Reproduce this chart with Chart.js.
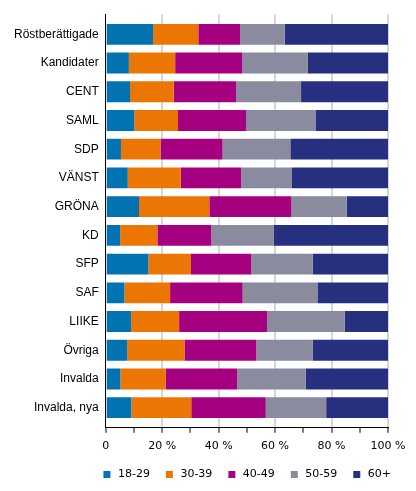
<!DOCTYPE html>
<html>
<head>
<meta charset="utf-8">
<script src="https://cdn.jsdelivr.net/npm/chart.js@4.4.1/dist/chart.umd.min.js"></script>
<style>
  html, body { margin: 0; padding: 0; background: #fff; }
  #wrap { width: 416px; height: 491px; }
</style>
</head>
<body>
<div id="wrap"><canvas id="chart"></canvas></div>
<script>
const categories = ['Röstberättigade', 'Kandidater', 'CENT', 'SAML', 'SDP', 'VÄNST', 'GRÖNA',
    'KD', 'SFP', 'SAF', 'LIIKE', 'Övriga', 'Invalda', 'Invalda, nya'];

const seriesNames = ['18-29', '30-39', '40-49', '50-59', '60+'];
const age1829 = [16.8, 8.2, 8.6, 10.1, 5.4, 7.8, 11.8, 5.1, 15.1, 6.6, 9.0, 7.6, 5.2, 9.1];
const age3039 = [16.0, 16.4, 15.5, 15.5, 14.0, 18.8, 24.9, 13.2, 15.1, 16.2, 17.0, 20.3, 16.0, 21.2];
const age4049 = [14.8, 23.8, 22.1, 24.1, 22.0, 21.4, 29.1, 19.1, 21.4, 25.7, 31.2, 25.4, 25.4, 26.4];
const age5059 = [15.8, 23.1, 23.0, 24.6, 24.0, 17.8, 19.6, 22.2, 21.7, 26.5, 27.5, 20.1, 24.3, 21.4];
const age60 = [36.6, 28.5, 30.8, 25.7, 34.6, 34.2, 14.6, 40.4, 26.7, 25.0, 15.3, 26.6, 29.1, 21.9];

const xTicks = [0, 20, 40, 60, 80, 100];

const colors = ['#0073b0', '#eb7604', '#a5007f', '#8a8b9f', '#26307f'];
const allSeries = [age1829, age3039, age4049, age5059, age60];

const datasets = allSeries.map((values, s) => ({
    label: seriesNames[s],
    data: values.map((v, i) => ({ x: v, y: i })),
    backgroundColor: colors[s],
    borderWidth: 0,
    barPercentage: 0.725,
    categoryPercentage: 1
}));

new Chart(document.getElementById('chart'), {
    type: 'bar',
    data: { datasets: datasets },
    options: {
        indexAxis: 'y',
        responsive: true,
        maintainAspectRatio: false,
        animation: false,
        layout: { padding: { left: 7, right: 11, top: 11, bottom: 1 } },
        scales: {
            x: {
                stacked: true,
                min: 0,
                max: 100,
                grid: {
                    color: c => (c.tick && c.tick.value > 0 && xTicks.includes(c.tick.value)) ? '#d6d6d6' : 'rgba(0,0,0,0)',
                    lineWidth: 2,
                    tickColor: '#000',
                    tickWidth: 1,
                    tickLength: 5
                },
                border: { display: true, color: '#000', width: 1 },
                ticks: {
                    stepSize: 10,
                    autoSkip: false,
                    maxRotation: 0,
                    padding: 7,
                    color: '#000',
                    font: { family: 'DejaVu Sans', size: 11 },
                    callback: v => xTicks.includes(v) ? (v === 0 ? '0' : v + ' %') : ''
                },
                afterFit: s => { s.paddingRight = 28; s.height -= 5; }
            },
            y: {
                type: 'linear',
                stacked: true,
                reverse: true,
                offset: false,
                bounds: 'data',
                min: -0.7,
                max: 13.7,
                grid: { display: false, drawTicks: false },
                border: { display: true, color: '#000', width: 1 },
                afterBuildTicks: s => { s.ticks = categories.map((c, i) => ({ value: i })); },
                ticks: {
                    autoSkip: false,
                    padding: 7,
                    color: '#000',
                    font: { family: 'Liberation Sans', size: 12 },
                    callback: v => categories[v]
                }
            }
        },
        plugins: {
            legend: {
                position: 'bottom',
                fullSize: true,
                align: 'end',
                labels: {
                    usePointStyle: true,
                    pointStyle: 'rect',
                    boxWidth: 11,
                    boxHeight: 7,
                    padding: 14,
                    color: '#000',
                    font: { family: 'DejaVu Sans', size: 11 }
                }
            },
            tooltip: { enabled: false }
        }
    }
});
</script>
</body>
</html>
